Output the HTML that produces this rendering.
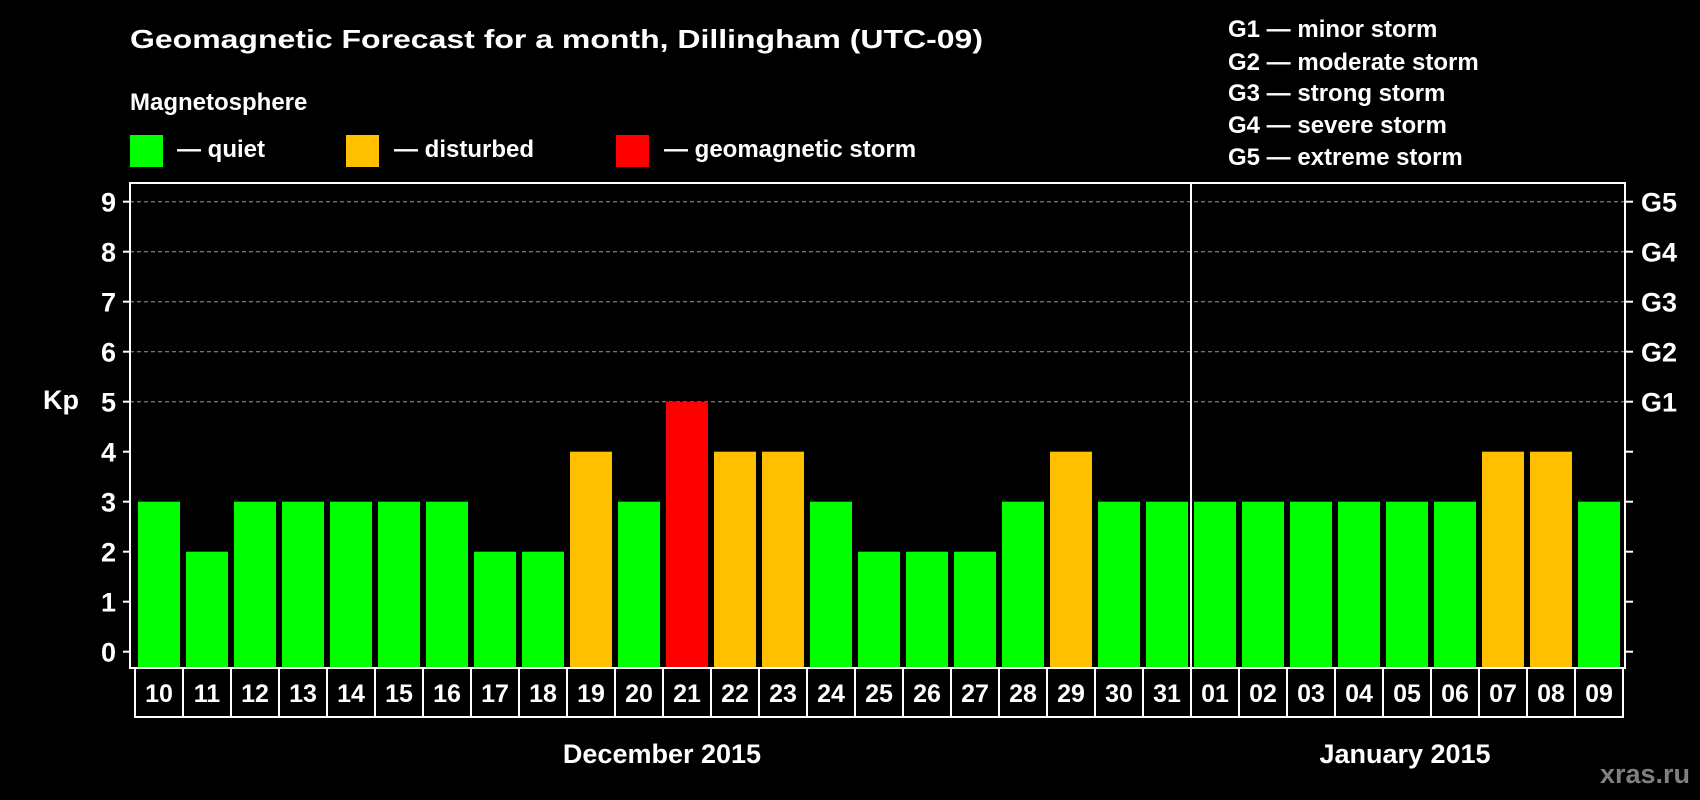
<!DOCTYPE html>
<html><head><meta charset="utf-8"><style>
html,body{margin:0;padding:0;background:#000;}
svg{display:block;font-family:"Liberation Sans",Arial,sans-serif;font-weight:bold;}
</style></head><body>
<svg id="chart" width="1700" height="800" viewBox="0 0 1700 800">
<rect width="1700" height="800" fill="#000"/>
<text x="130" y="48" font-size="26" fill="#fff" textLength="853" lengthAdjust="spacingAndGlyphs">Geomagnetic Forecast for a month, Dillingham (UTC-09)</text>
<text x="130" y="110" font-size="24" fill="#fff">Magnetosphere</text>
<g>
<rect x="130" y="135" width="33" height="32" fill="#00ff00"/>
<text x="177" y="157" font-size="24" fill="#fff">— quiet</text></g>
<g>
<rect x="346" y="135" width="33" height="32" fill="#ffc000"/>
<text x="394" y="157" font-size="24" fill="#fff">— disturbed</text></g>
<g>
<rect x="616" y="135" width="33" height="32" fill="#ff0000"/>
<text x="664" y="157" font-size="24" fill="#fff">— geomagnetic storm</text></g>
<g font-size="24" fill="#fff">
<text x="1228" y="37">G1 — minor storm</text>
<text x="1228" y="70">G2 — moderate storm</text>
<text x="1228" y="101">G3 — strong storm</text>
<text x="1228" y="133">G4 — severe storm</text>
<text x="1228" y="165">G5 — extreme storm</text>
</g>
<text x="43" y="409" font-size="27" fill="#fff">Kp</text>
<g id="grid"></g>
<g id="bars"></g>
<g id="xlabels"></g>
<rect x="130" y="183" width="1495" height="485" fill="none" stroke="#fff" stroke-width="2"/>
<line x1="1191" y1="183" x2="1191" y2="668" stroke="#fff" stroke-width="2"/>
<text x="662" y="763" font-size="27" fill="#fff" text-anchor="middle">December 2015</text>
<text x="1405" y="763" font-size="27" fill="#fff" text-anchor="middle">January 2015</text>
<text x="1690" y="783" font-size="27" fill="#808080" text-anchor="end">xras.ru</text>
</svg>
<script>
const days = ["10","11","12","13","14","15","16","17","18","19","20","21","22","23","24","25","26","27","28","29","30","31","01","02","03","04","05","06","07","08","09"];
const kpValues = [3,2,3,3,3,3,3,2,2,4,3,5,4,4,3,2,2,2,3,4,3,3,3,3,3,3,3,3,4,4,3];
const yTicks = [0,1,2,3,4,5,6,7,8,9];
const gLabels = ["","","","","","G1","G2","G3","G4","G5"];

const NS="http://www.w3.org/2000/svg";
const x0=135, slot=48, y0=651.7, unit=50;
const xPos=i=>x0+i*slot;
const yPos=v=>y0-v*unit;
function colorFor(v){return v>=5?"#ff0000":(v>=4?"#ffc000":"#00ff00");}
function mk(tag,attrs,parent){const e=document.createElementNS(NS,tag);for(const k in attrs)e.setAttribute(k,attrs[k]);parent.appendChild(e);return e;}

const grid=document.getElementById('grid');
yTicks.forEach((t,i)=>{
  const y=yPos(t);
  if(t>=5){
    const gl=mk('line',{x1:130,x2:1625,y1:y,y2:y,stroke:'#9a9a9a','stroke-width':1,'stroke-dasharray':'4,3'},grid);
    
    
  }
  const tl=mk('line',{x1:123,x2:130,y1:y,y2:y,stroke:'#fff','stroke-width':2},grid);
  
  
  const tr=mk('line',{x1:1625,x2:1633,y1:y,y2:y,stroke:'#fff','stroke-width':2},grid);
  
  
  const lb=mk('text',{x:116,y:y+10,'font-size':27,fill:'#fff','text-anchor':'end'},grid);
  lb.textContent=t;
  
  
  if(gLabels[i]){
    const gr=mk('text',{x:1641,y:y+10,'font-size':27,fill:'#fff'},grid);
    gr.textContent=gLabels[i];
    
    
  }
});

const bars=document.getElementById('bars');
kpValues.forEach((v,i)=>{
  const b=mk('rect',{x:xPos(i)+3,y:yPos(v),width:42,height:668-yPos(v),fill:colorFor(v)},bars);
  
  
});

const xl=document.getElementById('xlabels');
days.forEach((d,i)=>{
  const r=mk('rect',{x:xPos(i),y:668,width:slot,height:49,fill:'#000',stroke:'#fff','stroke-width':2},xl);
  
  
  const t=mk('text',{x:xPos(i)+slot/2,y:702,'font-size':25,fill:'#fff','text-anchor':'middle'},xl);
  t.textContent=d;
  
  
});
</script>
</body></html>
